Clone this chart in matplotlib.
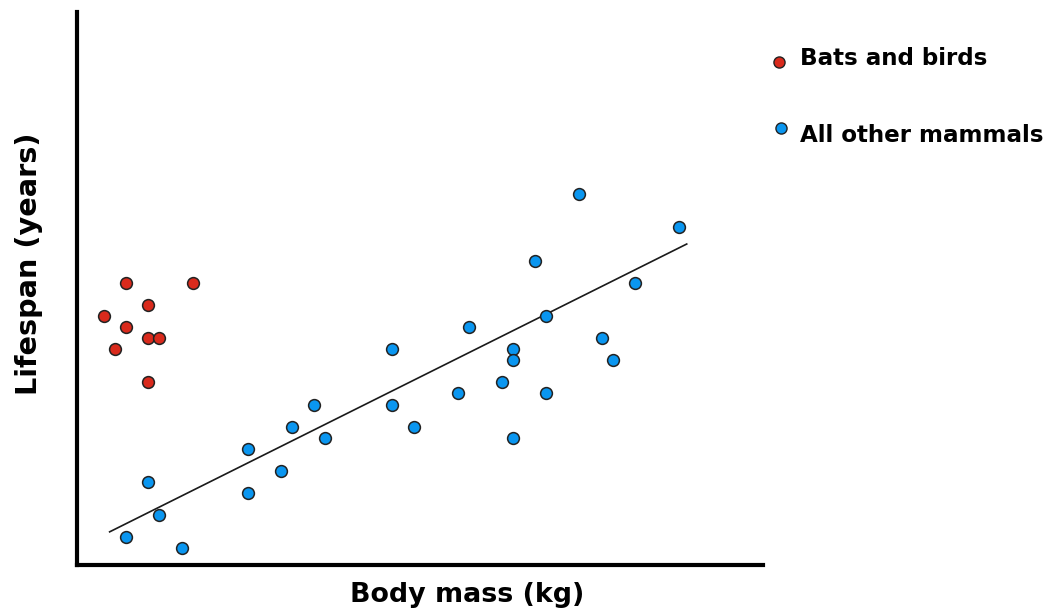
import matplotlib.pyplot as plt

# Bats and birds (grid units, no real scale on the axes)
bird_x = [3, 4, 5, 5, 7, 7, 8, 7, 11]
bird_y = [22, 19, 25, 21, 23, 20, 20, 16, 25]

# All other mammals
mammal_x = [5, 7, 8, 10, 16, 16, 19, 20, 22, 23, 29, 29, 31, 35, 36,
            39, 40, 40, 40, 42, 43, 43, 46, 48, 49, 51, 55]
mammal_y = [2, 7, 4, 1, 10, 6, 8, 12, 14, 11, 19, 14, 12, 15, 21,
            16, 19, 18, 11, 27, 22, 15, 33, 20, 18, 25, 30]

# Trend line for the mammals
trend_x = [3.5, 55.7]
trend_y = [2.5, 28.5]

labels = ["Bats and birds", "All other mammals"]
colors = ["#d92a1c", "#0a96f0"]

fig = plt.figure(figsize=(10.55, 6.14), dpi=100)
ax = fig.add_axes([76.7 / 1055, 49.5 / 614, (763 - 76.7) / 1055, (564.5 - 12) / 614])

ax.plot(trend_x, trend_y, color="#1a1a1a", linewidth=1.2, zorder=2)
ax.scatter(bird_x, bird_y, s=72, color=colors[0], edgecolors="#222222",
           linewidths=1.1, zorder=3)
ax.scatter(mammal_x, mammal_y, s=72, color=colors[1], edgecolors="#222222",
           linewidths=1.1, zorder=3)

ax.set_xlim(0.52, 62.6)
ax.set_ylim(-0.45, 49.46)
ax.set_xticks([])
ax.set_yticks([])
for side in ["top", "right"]:
    ax.spines[side].set_visible(False)
for side in ["left", "bottom"]:
    ax.spines[side].set_linewidth(3)
    ax.spines[side].set_color("black")
    ax.spines[side].set_capstyle("projecting")

# axis titles
fig.text(467.5 / 1055, 1 - 595 / 614, "Body mass (kg)", ha="center", va="center",
         fontsize=19.4, fontweight="bold")
fig.text(29 / 1055, 1 - 263.5 / 614, "Lifespan (years)", ha="center", va="center",
         rotation=90, fontsize=20.7, fontweight="bold")

# legend drawn by hand to the right of the plot
marker_pos = [(779, 62), (780.5, 128)]
text_base = [65, 142]
for (mx, my), tb, lab, col in zip(marker_pos, text_base, labels, colors):
    fig.add_artist(plt.Line2D([mx / 1055], [1 - my / 614], marker="o", markersize=8,
                              markerfacecolor=col, markeredgecolor="#222222",
                              markeredgewidth=1.0, linestyle="none",
                              transform=fig.transFigure))
    fig.text(800 / 1055, 1 - tb / 614, lab, ha="left", va="baseline",
             fontsize=16.6, fontweight="bold")

fig.savefig("out.png", dpi=100)
